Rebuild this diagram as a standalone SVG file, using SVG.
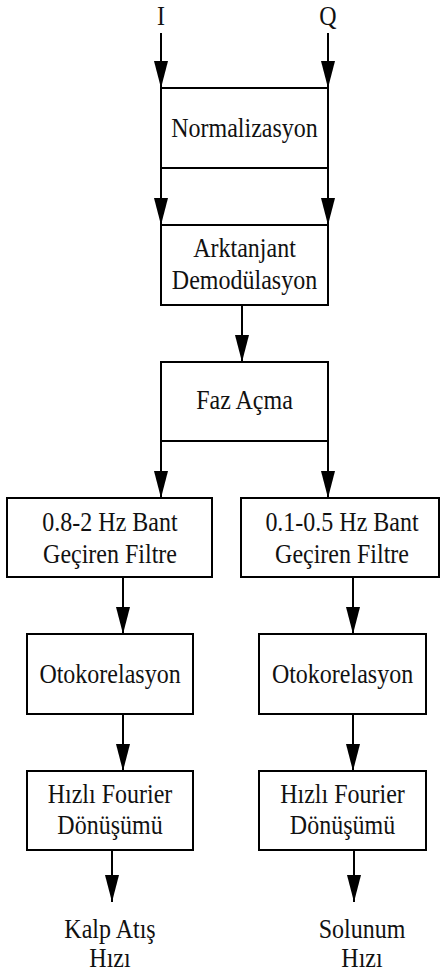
<svg xmlns="http://www.w3.org/2000/svg" width="440" height="974" viewBox="0 0 440 974">
<style>
.box{fill:#fff;stroke:#000;stroke-width:2}
.ln{stroke:#000;stroke-width:2;fill:none;marker-end:url(#ah)}
.t{font-family:'Liberation Serif','Times New Roman',serif;font-size:24px;fill:#111;text-anchor:middle}
</style>
<defs>
<marker id="ah" markerUnits="userSpaceOnUse" markerWidth="28" markerHeight="14" refX="27" refY="7" orient="auto" viewBox="0 0 28 14">
<path d="M0,0 L27,7 L0,14 z" fill="#000"/>
</marker>
</defs>
<rect width="440" height="974" fill="#fff"/>
<g id="connectors">
<line class="ln" x1="161" y1="33" x2="161" y2="88"/>
<line class="ln" x1="328" y1="33" x2="328" y2="88"/>
<line class="ln" x1="161" y1="168" x2="161" y2="225"/>
<line class="ln" x1="328" y1="168" x2="328" y2="225"/>
<line class="ln" x1="242" y1="305" x2="242" y2="362"/>
<line class="ln" x1="161" y1="441" x2="161" y2="498"/>
<line class="ln" x1="328" y1="441" x2="328" y2="498"/>
<line class="ln" x1="123" y1="577" x2="123" y2="634"/>
<line class="ln" x1="353" y1="577" x2="353" y2="634"/>
<line class="ln" x1="123" y1="714" x2="123" y2="771"/>
<line class="ln" x1="353" y1="714" x2="353" y2="771"/>
<line class="ln" x1="112" y1="850" x2="112" y2="902"/>
<line class="ln" x1="354" y1="850" x2="354" y2="902"/>
</g>
<g id="in_I"><text class="t" transform="translate(161,25) scale(1,1.1)">I</text></g>
<g id="in_Q"><text class="t" transform="translate(328,25) scale(1,1.1)">Q</text></g>
<g id="normalizasyon"><rect class="box" x="161" y="88" width="167" height="80"/><text class="t" transform="translate(244.5,137) scale(1,1.1)">Normalizasyon</text></g>
<g id="arktanjant"><rect class="box" x="161" y="225" width="167" height="80"/><text class="t" transform="translate(244.5,257) scale(1,1.1)">Arktanjant</text><text class="t" transform="translate(244.5,289) scale(1,1.1)">Demodülasyon</text></g>
<g id="fazacma"><rect class="box" x="161" y="362" width="167" height="79"/><text class="t" transform="translate(244.5,409) scale(1,1.1)">Faz Açma</text></g>
<g id="filtre1"><rect class="box" x="7" y="498" width="205" height="79"/><text class="t" transform="translate(110,531) scale(1,1.1)">0.8-2 Hz Bant</text><text class="t" transform="translate(110,563) scale(1,1.1)">Geçiren Filtre</text></g>
<g id="filtre2"><rect class="box" x="241" y="498" width="198" height="79"/><text class="t" transform="translate(342,531) scale(1,1.1)">0.1-0.5 Hz Bant</text><text class="t" transform="translate(342,563) scale(1,1.1)">Geçiren Filtre</text></g>
<g id="oto1"><rect class="box" x="27" y="634" width="166" height="80"/><text class="t" transform="translate(110,683) scale(1,1.1)">Otokorelasyon</text></g>
<g id="oto2"><rect class="box" x="259" y="634" width="167" height="80"/><text class="t" transform="translate(342.5,683) scale(1,1.1)">Otokorelasyon</text></g>
<g id="fft1"><rect class="box" x="27" y="771" width="166" height="79"/><text class="t" transform="translate(110,803) scale(1,1.1)">Hızlı Fourier</text><text class="t" transform="translate(110,834) scale(1,1.1)">Dönüşümü</text></g>
<g id="fft2"><rect class="box" x="259" y="771" width="167" height="79"/><text class="t" transform="translate(342.5,803) scale(1,1.1)">Hızlı Fourier</text><text class="t" transform="translate(342.5,834) scale(1,1.1)">Dönüşümü</text></g>
<g id="out1"><text class="t" transform="translate(110,938) scale(1,1.1)">Kalp Atış</text><text class="t" transform="translate(110,967) scale(1,1.1)">Hızı</text></g>
<g id="out2"><text class="t" transform="translate(362,938) scale(1,1.1)">Solunum</text><text class="t" transform="translate(362,967) scale(1,1.1)">Hızı</text></g>
</svg>
